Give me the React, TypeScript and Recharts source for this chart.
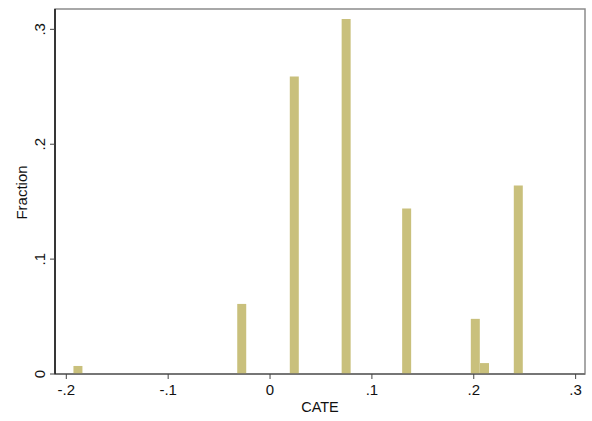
import { Bar, BarChart, ReferenceArea, XAxis, YAxis } from "recharts";

// histogram bins (bin centre on the CATE axis) and the fraction in each
const binCenters = [-0.1885, -0.0277, 0.0239, 0.0748, 0.1342, 0.2016, 0.2106, 0.2438];
const fractions = [0.007, 0.061, 0.259, 0.309, 0.144, 0.048, 0.0095, 0.164];

const xTicks = [-0.2, -0.1, 0, 0.1, 0.2, 0.3];
const yTicks = [0, 0.1, 0.2, 0.3];

const X_DOMAIN = [-0.2111, 0.3092];
const Y_DOMAIN = [0, 0.3177];

const data = binCenters.map((x, i) => ({ x, fraction: fractions[i] }));

const FONT = "'Liberation Sans', Arial, Helvetica, sans-serif";
const BAR_COLOR = "#c9c07c";

// Stata-style labels: drop the leading zero
const fmt = (v: number) => {
  if (v === 0) return "0";
  const s = String(Math.round(v * 10) / 10);
  return s.replace(/^(-?)0\./, "$1.");
};

function YTick(props: any) {
  const { y, payload } = props;
  const x = 45;
  return (
    <text
      x={x}
      y={y}
      transform={`rotate(-90 ${x} ${y})`}
      textAnchor="middle"
      fontFamily={FONT}
      fontSize={15}
      fill="#111"
    >
      {fmt(payload.value)}
    </text>
  );
}

export default function App() {
  return (
    <div style={{ position: "absolute", left: 0, top: 0, background: "#fff" }}>
      <BarChart
        width={592}
        height={421}
        data={data}
        margin={{ top: 9, right: 7, left: 0, bottom: 0 }}
      >
        {/* plot-region frame */}
        <ReferenceArea
          x1={X_DOMAIN[0]}
          x2={X_DOMAIN[1]}
          y1={Y_DOMAIN[0]}
          y2={Y_DOMAIN[1]}
          fill="none"
          fillOpacity={0}
          stroke="#8c8c8c"
          strokeWidth={1.5}
          strokeOpacity={1}
        />
        <XAxis
          dataKey="x"
          type="number"
          domain={X_DOMAIN}
          ticks={xTicks}
          tickFormatter={fmt}
          allowDataOverflow
          height={47}
          tickSize={5}
          tickMargin={5}
          axisLine={{ stroke: "#666", strokeWidth: 1.5 }}
          tickLine={{ stroke: "#444" }}
          tick={{ fill: "#111", fontSize: 15, fontFamily: FONT }}
          label={(p: any) => {
            const vb = p.viewBox;
            return (
              <text
                x={vb.x + vb.width / 2}
                y={412}
                textAnchor="middle"
                fontFamily={FONT}
                fontSize={14.5}
                fill="#111"
              >
                CATE
              </text>
            );
          }}
        />
        <YAxis
          type="number"
          domain={Y_DOMAIN}
          ticks={yTicks}
          allowDataOverflow
          width={55}
          tickSize={5}
          axisLine={{ stroke: "#111", strokeWidth: 1.5 }}
          tickLine={{ stroke: "#444" }}
          tick={<YTick />}
          label={(p: any) => {
            const vb = p.viewBox;
            const x = 27;
            const y = vb.y + vb.height / 2 + 1;
            return (
              <text
                x={x}
                y={y}
                transform={`rotate(-90 ${x} ${y})`}
                textAnchor="middle"
                fontFamily={FONT}
                fontSize={15}
                fill="#111"
              >
                Fraction
              </text>
            );
          }}
        />
        <Bar dataKey="fraction" fill={BAR_COLOR} barSize={9} isAnimationActive={false} />
      </BarChart>
    </div>
  );
}
